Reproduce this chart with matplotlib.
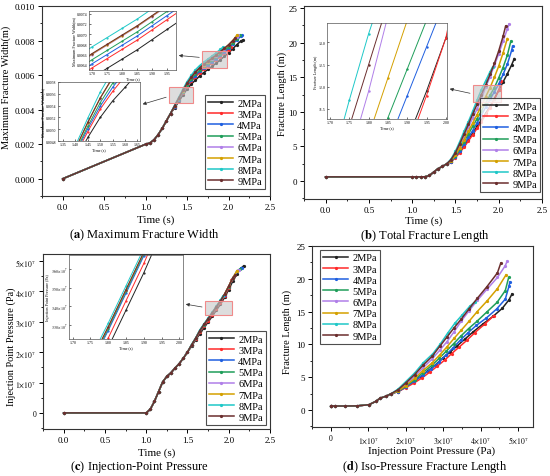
import matplotlib
matplotlib.use("Agg")
import matplotlib.pyplot as plt
from matplotlib.patches import Rectangle
from matplotlib.ticker import AutoMinorLocator, FuncFormatter, MultipleLocator

plt.rcParams["font.family"] = ["Liberation Serif", "DejaVu Serif"]
plt.rcParams["mathtext.fontset"] = "stix"

labels = ["2MPa", "3MPa", "4MPa", "5MPa", "6MPa", "7MPa", "8MPa", "9MPa"]
colors = ["#222222", "#ff2a2a", "#1f5fe0", "#1f9e5a", "#b07fe8", "#d4a000", "#1fc8c8", "#6b2e2e"]

# sample times (s); each series stops at its own end time
time_grid = [0.0, 1.0, 1.05, 1.1, 1.15, 1.2, 1.25, 1.3, 1.35, 1.4, 1.45, 1.5, 1.55,
             1.6, 1.65, 1.7, 1.75, 1.8, 1.85, 1.9, 1.95, 2.0, 2.05, 2.1, 2.15]
end_time = [2.18, 2.03, 2.16, 2.14, 2.12, 2.10, 1.93, 2.08]

width_m = [
    [0, 0.00200, 0.00207, 0.00225, 0.00255, 0.00292, 0.00335, 0.00378, 0.00411, 0.00448, 0.00486, 0.00520, 0.00548,
     0.00571, 0.00595, 0.00615, 0.00633, 0.00651, 0.00669, 0.00689, 0.00709, 0.00729, 0.00753, 0.00777, 0.00799, 0.00805],
    [0, 0.00200, 0.00207, 0.00225, 0.00255, 0.00292, 0.00335, 0.00378, 0.00416, 0.00456, 0.00496, 0.00534, 0.00564,
     0.00590, 0.00614, 0.00634, 0.00652, 0.00670, 0.00688, 0.00708, 0.00728, 0.00748, 0.00762],
    [0, 0.00200, 0.00207, 0.00225, 0.00255, 0.00292, 0.00335, 0.00378, 0.00418, 0.00459, 0.00501, 0.00539, 0.00571,
     0.00598, 0.00622, 0.00642, 0.00660, 0.00678, 0.00696, 0.00716, 0.00736, 0.00756, 0.00780, 0.00804, 0.00826, 0.00830],
    [0, 0.00200, 0.00207, 0.00225, 0.00255, 0.00292, 0.00335, 0.00378, 0.00420, 0.00462, 0.00505, 0.00545, 0.00578,
     0.00606, 0.00630, 0.00650, 0.00668, 0.00686, 0.00704, 0.00724, 0.00744, 0.00764, 0.00788, 0.00812, 0.00830],
    [0, 0.00200, 0.00207, 0.00225, 0.00255, 0.00292, 0.00335, 0.00378, 0.00423, 0.00466, 0.00511, 0.00552, 0.00587,
     0.00616, 0.00640, 0.00660, 0.00678, 0.00696, 0.00714, 0.00734, 0.00754, 0.00774, 0.00798, 0.00822, 0.00830],
    [0, 0.00200, 0.00207, 0.00225, 0.00255, 0.00292, 0.00335, 0.00378, 0.00423, 0.00466, 0.00511, 0.00553, 0.00587,
     0.00617, 0.00641, 0.00661, 0.00679, 0.00697, 0.00715, 0.00735, 0.00755, 0.00775, 0.00799, 0.00832],
    [0, 0.00200, 0.00207, 0.00225, 0.00255, 0.00292, 0.00335, 0.00378, 0.00426, 0.00472, 0.00519, 0.00563, 0.00599,
     0.00631, 0.00655, 0.00675, 0.00693, 0.00711, 0.00729, 0.00749, 0.00761],
    [0, 0.00200, 0.00207, 0.00225, 0.00255, 0.00292, 0.00335, 0.00378, 0.00423, 0.00467, 0.00512, 0.00553, 0.00588,
     0.00618, 0.00642, 0.00662, 0.00680, 0.00698, 0.00716, 0.00736, 0.00756, 0.00776, 0.00800, 0.00815],
]

length_m = [
    [0.6, 0.6, 0.6, 0.6, 0.62, 0.8, 1.3, 1.8, 2.1, 2.5, 2.8, 3.5, 4.3, 5.1, 6.0, 6.9, 7.9, 8.8, 9.8, 10.8, 11.9,
     13.1, 14.3, 15.5, 16.8, 17.7],
    [0.6, 0.6, 0.6, 0.6, 0.62, 0.8, 1.3, 1.8, 2.1, 2.5, 2.8, 3.4, 4.1, 4.9, 5.8, 6.7, 7.6, 8.6, 9.6, 10.6, 11.8,
     13.1, 14.4],
    [0.6, 0.6, 0.6, 0.6, 0.62, 0.8, 1.3, 1.8, 2.1, 2.5, 2.8, 3.5, 4.4, 5.3, 6.3, 7.3, 8.4, 9.5, 10.7, 11.8, 12.9,
     14.0, 15.4, 16.9, 18.9, 19.5],
    [0.6, 0.6, 0.6, 0.6, 0.62, 0.8, 1.3, 1.8, 2.1, 2.5, 2.9, 3.6, 4.6, 5.7, 6.8, 7.9, 9.0, 10.1, 11.3, 12.4, 13.5,
     14.9, 16.4, 18.2, 20.2],
    [0.6, 0.6, 0.6, 0.6, 0.62, 0.8, 1.3, 1.8, 2.1, 2.5, 3.0, 3.9, 5.1, 6.4, 7.8, 9.1, 10.4, 11.9, 13.6, 15.1, 16.7,
     18.4, 20.2, 22.0, 22.7],
    [0.6, 0.6, 0.6, 0.6, 0.62, 0.8, 1.3, 1.8, 2.1, 2.5, 2.9, 3.7, 4.8, 6.0, 7.2, 8.4, 9.6, 10.9, 12.2, 13.5, 15.0,
     16.6, 18.5, 20.6],
    [0.6, 0.6, 0.6, 0.6, 0.62, 0.8, 1.3, 1.8, 2.1, 2.5, 3.2, 4.3, 5.7, 7.2, 8.6, 10.1, 11.7, 13.2, 14.5, 15.8, 16.5],
    [0.6, 0.6, 0.6, 0.6, 0.62, 0.8, 1.3, 1.8, 2.1, 2.5, 3.1, 4.1, 5.4, 6.8, 8.2, 9.7, 11.1, 12.5, 13.9, 15.4, 17.0,
     18.8, 20.9, 22.4],
]

# injection point pressure in units of 1e7 Pa
pressure_e7 = [
    [0, 0, 0.12, 0.38, 0.70, 1.02, 1.20, 1.32, 1.48, 1.62, 1.80, 2.00, 2.19, 2.41, 2.60, 2.80, 2.99, 3.18, 3.38,
     3.58, 3.80, 4.06, 4.34, 4.58, 4.76, 4.84],
    [0, 0, 0.12, 0.38, 0.70, 1.02, 1.20, 1.32, 1.48, 1.62, 1.80, 2.00, 2.22, 2.44, 2.65, 2.85, 3.04, 3.23, 3.43,
     3.63, 3.85, 4.11, 4.36],
    [0, 0, 0.12, 0.38, 0.70, 1.02, 1.20, 1.32, 1.48, 1.62, 1.80, 2.00, 2.23, 2.45, 2.69, 2.89, 3.08, 3.27, 3.47,
     3.67, 3.89, 4.15, 4.43, 4.66, 4.76, 4.78],
    [0, 0, 0.12, 0.38, 0.70, 1.02, 1.20, 1.32, 1.48, 1.62, 1.80, 2.00, 2.24, 2.46, 2.70, 2.90, 3.09, 3.28, 3.48,
     3.68, 3.90, 4.16, 4.44, 4.66, 4.75],
    [0, 0, 0.12, 0.38, 0.70, 1.02, 1.20, 1.32, 1.48, 1.62, 1.80, 2.00, 2.24, 2.46, 2.71, 2.91, 3.10, 3.29, 3.49,
     3.69, 3.91, 4.17, 4.45, 4.66, 4.71],
    [0, 0, 0.12, 0.38, 0.70, 1.02, 1.20, 1.32, 1.48, 1.62, 1.80, 2.00, 2.24, 2.46, 2.71, 2.91, 3.10, 3.29, 3.49,
     3.69, 3.91, 4.17, 4.45, 4.68],
    [0, 0, 0.12, 0.38, 0.70, 1.02, 1.20, 1.32, 1.48, 1.62, 1.80, 2.00, 2.25, 2.47, 2.73, 2.93, 3.12, 3.31, 3.51,
     3.71, 3.85],
    [0, 0, 0.12, 0.38, 0.70, 1.02, 1.20, 1.32, 1.48, 1.62, 1.80, 2.00, 2.24, 2.46, 2.71, 2.91, 3.10, 3.29, 3.49,
     3.69, 3.91, 4.17, 4.45, 4.54],
]


def series_times(i):
    n = len(width_m[i])
    return time_grid[: n - 1] + [end_time[i]]


def sci7(v, _pos=None):
    if abs(v) < 1e-3:
        return "0"
    return rf"${v / 1e7:g}{{\times}}10^{{7}}$"


def sci7_2(v, _pos=None):
    return rf"${v / 1e7:.2f}{{\times}}10^{{7}}$"


def draw_curves(ax, xs, ys, lw=1.1, ms=2.6):
    for i in range(len(labels)):
        ax.plot(xs[i], ys[i], color=colors[i], lw=lw, marker=".", ms=ms, label=labels[i])


def style_axes(ax, size=6.5):
    for s in ax.spines.values():
        s.set_linewidth(0.8)
        s.set_color("#333333")
    ax.xaxis.set_minor_locator(AutoMinorLocator(2))
    ax.yaxis.set_minor_locator(AutoMinorLocator(2))
    ax.tick_params(which="major", direction="out", length=3, width=0.7, labelsize=size, pad=2,
                   top=False, right=False)
    ax.tick_params(which="minor", direction="out", length=1.6, width=0.6, top=False, right=False)


def style_inset(ax):
    for s in ax.spines.values():
        s.set_linewidth(0.5)
        s.set_color("#555555")
    ax.tick_params(direction="in", length=1.2, width=0.4, labelsize=2.8, pad=1)
    ax.set_facecolor("white")


def add_legend(ax, loc, anchor):
    leg = ax.legend(loc=loc, bbox_to_anchor=anchor, fontsize=7.5, frameon=True, fancybox=False,
                    edgecolor="#222222", handlelength=2.4, handletextpad=0.4, labelspacing=0.18,
                    borderpad=0.3, borderaxespad=0)
    leg.get_frame().set_linewidth(0.8)


def zoom_box(ax, x0, x1, y0, y1):
    ax.add_patch(Rectangle((x0, y0), x1 - x0, y1 - y0, facecolor=(0.78, 0.78, 0.78, 0.6),
                           edgecolor="#f08a8a", lw=0.8, zorder=5))


def zoom_arrow(ax, tail, axins, head_frac):
    ax.annotate("", xy=(1.0, head_frac), xycoords=axins, xytext=tail, textcoords="data",
                arrowprops=dict(arrowstyle="-|>", color="#333333", lw=0.5, mutation_scale=5),
                annotation_clip=False, zorder=6)


times = [series_times(i) for i in range(len(labels))]
pressure_pa = [[p * 1e7 for p in row] for row in pressure_e7]

fig = plt.figure(figsize=(5.5, 4.77), dpi=100)

# (a) maximum fracture width
ax_a = fig.add_axes([0.0764, 0.587, 0.4145, 0.398])
draw_curves(ax_a, times, width_m)
ax_a.set_xlim(-0.25, 2.5)
ax_a.set_ylim(-0.001, 0.010)
ax_a.xaxis.set_major_locator(MultipleLocator(0.5))
ax_a.yaxis.set_major_locator(MultipleLocator(0.002))
ax_a.yaxis.set_major_formatter(FuncFormatter(lambda v, p: f"{v:.3f}"))
ax_a.xaxis.set_major_formatter(FuncFormatter(lambda v, p: f"{v:.1f}"))
style_axes(ax_a)
ax_a.set_xlabel("Time (s)", fontsize=8)
ax_a.set_ylabel("Maximum Fracture Width(m)", fontsize=7.5)
ax_a.xaxis.set_label_coords(0.5, -0.095)
ax_a.yaxis.set_label_coords(-0.135, 0.58)
add_legend(ax_a, "lower right", (0.978, 0.037))
zoom_box(ax_a, 1.68, 1.98, 0.00644, 0.0074)
zoom_box(ax_a, 1.28, 1.57, 0.00438, 0.00529)

ins_a1 = fig.add_axes([0.1618, 0.8512, 0.1582, 0.1237])
draw_curves(ins_a1, times, width_m, lw=0.7, ms=1.2)
ins_a1.set_xlim(1.69, 1.98)
ins_a1.set_ylim(0.0063, 0.00745)
ins_a1.set_xticks([1.70, 1.75, 1.80, 1.85, 1.90, 1.95])
ins_a1.set_yticks([0.0064, 0.0066, 0.0068, 0.0070, 0.0072, 0.0074])
ins_a1.xaxis.set_major_formatter(FuncFormatter(lambda v, p: f"{v:.2f}"))
ins_a1.yaxis.set_major_formatter(FuncFormatter(lambda v, p: f"{v:.4f}"))
style_inset(ins_a1)
ins_a1.set_xlabel("Time (s)", fontsize=3, labelpad=0.5)
ins_a1.set_ylabel("Maximum Fracture Width(m)", fontsize=3, labelpad=0.5)
zoom_arrow(ax_a, (1.68, 0.00702), ins_a1, 0.25)

ins_a2 = fig.add_axes([0.1055, 0.7023, 0.149, 0.1237])
draw_curves(ins_a2, times, width_m, lw=0.7, ms=1.2)
ins_a2.set_xlim(1.33, 1.66)
ins_a2.set_ylim(0.0048, 0.0058)
ins_a2.set_xticks([1.35, 1.40, 1.45, 1.50, 1.55, 1.60, 1.65])
ins_a2.set_yticks([0.0048, 0.0050, 0.0052, 0.0054, 0.0056, 0.0058])
ins_a2.xaxis.set_major_formatter(FuncFormatter(lambda v, p: f"{v:.2f}"))
ins_a2.yaxis.set_major_formatter(FuncFormatter(lambda v, p: f"{v:.4f}"))
style_inset(ins_a2)
ins_a2.set_xlabel("Time (s)", fontsize=3, labelpad=0.5)
ins_a2.set_ylabel("Maximum Fracture Width(m)", fontsize=3, labelpad=0.5)
zoom_arrow(ax_a, (1.28, 0.00477), ins_a2, 0.61)

# (b) total fracture length
ax_b = fig.add_axes([0.5527, 0.5807, 0.4327, 0.4046])
draw_curves(ax_b, times, length_m)
ax_b.set_xlim(-0.25, 2.5)
ax_b.set_ylim(-2.6, 25.3)
ax_b.xaxis.set_major_locator(MultipleLocator(0.5))
ax_b.yaxis.set_major_locator(MultipleLocator(5))
ax_b.xaxis.set_major_formatter(FuncFormatter(lambda v, p: f"{v:.1f}"))
style_axes(ax_b)
ax_b.set_xlabel("Time (s)", fontsize=8)
ax_b.set_ylabel("Fracture Length (m)", fontsize=7.5)
ax_b.xaxis.set_label_coords(0.504, -0.083)
ax_b.yaxis.set_label_coords(-0.072, 0.55)
add_legend(ax_b, "lower right", (0.992, 0.036))
zoom_box(ax_b, 1.70, 2.03, 11.4, 13.9)

ins_b = fig.add_axes([0.5945, 0.7484, 0.2182, 0.2013])
draw_curves(ins_b, times, length_m, lw=0.7, ms=1.5)
ins_b.set_xlim(1.692, 2.003)
ins_b.set_ylim(11.27, 13.44)
ins_b.set_xticks([1.70, 1.75, 1.80, 1.85, 1.90, 1.95, 2.00])
ins_b.set_yticks([11.5, 12.0, 12.5, 13.0])
ins_b.xaxis.set_major_formatter(FuncFormatter(lambda v, p: f"{v:.2f}"))
ins_b.yaxis.set_major_formatter(FuncFormatter(lambda v, p: f"{v:.1f}"))
style_inset(ins_b)
ins_b.set_xlabel("Time (s)", fontsize=3, labelpad=0.5)
ins_b.set_ylabel("Fracture Length (m)", fontsize=3, labelpad=0.5)
zoom_arrow(ax_b, (1.70, 12.6), ins_b, 0.32)

# (c) injection point pressure
ax_c = fig.add_axes([0.0782, 0.0985, 0.4127, 0.3669])
draw_curves(ax_c, times, pressure_pa)
ax_c.set_xlim(-0.25, 2.5)
ax_c.set_ylim(-0.53e7, 5.23e7)
ax_c.xaxis.set_major_locator(MultipleLocator(0.5))
ax_c.yaxis.set_major_locator(MultipleLocator(1e7))
ax_c.xaxis.set_major_formatter(FuncFormatter(lambda v, p: f"{v:.1f}"))
ax_c.yaxis.set_major_formatter(FuncFormatter(sci7))
style_axes(ax_c)
ax_c.tick_params(axis="y", which="major", labelsize=5.5)
ax_c.set_xlabel("Time (s)", fontsize=8)
ax_c.set_ylabel("Injection Point Pressure (Pa)", fontsize=7.5)
ax_c.xaxis.set_label_coords(0.5, -0.103)
ax_c.yaxis.set_label_coords(-0.118, 0.474)
add_legend(ax_c, "lower right", (0.982, 0.023))
zoom_box(ax_c, 1.71, 2.04, 3.22e7, 3.69e7)

ins_c = fig.add_axes([0.1255, 0.2872, 0.2073, 0.1761])
draw_curves(ins_c, times, pressure_pa, lw=0.7, ms=1.2)
ins_c.set_xlim(1.69, 2.01)
ins_c.set_ylim(3.225e7, 3.675e7)
ins_c.set_xticks([1.70, 1.75, 1.80, 1.85, 1.90, 1.95, 2.00])
ins_c.set_yticks([3.3e7, 3.4e7, 3.5e7, 3.6e7])
ins_c.xaxis.set_major_formatter(FuncFormatter(lambda v, p: f"{v:.2f}"))
ins_c.yaxis.set_major_formatter(FuncFormatter(sci7_2))
style_inset(ins_c)
ins_c.set_xlabel("Time (s)", fontsize=3, labelpad=0.5)
ins_c.set_ylabel("Injection Point Pressure (Pa)", fontsize=3, labelpad=0.5)
zoom_arrow(ax_c, (1.71, 3.47e7), ins_c, 0.42)

# (d) length against pressure
ax_d = fig.add_axes([0.5673, 0.1027, 0.4018, 0.3795])
draw_curves(ax_d, pressure_pa, length_m)
ax_d.set_xlim(-0.5e7, 5.4e7)
ax_d.set_ylim(-2.6, 25)
ax_d.xaxis.set_major_locator(MultipleLocator(1e7))
ax_d.yaxis.set_major_locator(MultipleLocator(5))
ax_d.xaxis.set_major_formatter(FuncFormatter(sci7))
style_axes(ax_d)
ax_d.tick_params(axis="x", which="major", labelsize=5.5)
ax_d.set_xlabel("Injection Point Pressure (Pa)", fontsize=8)
ax_d.set_ylabel("Fracture Length (m)", fontsize=7.5)
ax_d.xaxis.set_label_coords(0.54, -0.099)
ax_d.yaxis.set_label_coords(-0.09, 0.53)
add_legend(ax_d, "upper left", (0.036, 0.978))

captions = [r"($\mathbf{a}$) Maximum Fracture Width", r"($\mathbf{b}$) Total Fracture Length",
            r"($\mathbf{c}$) Injection-Point Pressure", r"($\mathbf{d}$) Iso-Pressure Fracture Length"]
caption_xy = [(144, 235), (425, 236), (140, 467), (425, 467)]
for text, (px, py) in zip(captions, caption_xy):
    fig.text(px / 550, 1 - py / 477, text, ha="center", va="center", fontsize=9)

fig.savefig("out.png", dpi=100)
